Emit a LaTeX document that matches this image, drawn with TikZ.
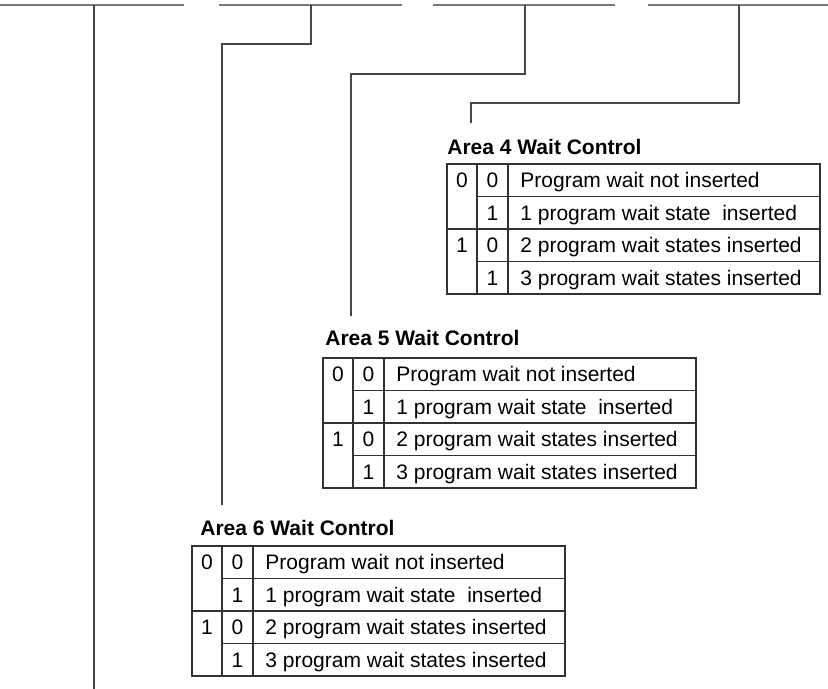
\documentclass[tikz,border=0pt]{standalone}
\usepackage{fontspec}
\setmainfont{Liberation Sans}
\usepackage{tikz}

\tikzset{
	bar/.style={draw={rgb, 255:red, 120; green, 120; blue, 120 }, line width=1pt},
	wire/.style={draw={rgb, 255:red, 70; green, 70; blue, 70 }, line width=0.6pt},
	grid/.style={draw={rgb, 255:red, 50; green, 50; blue, 50 }, line width=0.55pt},
	cell/.style={anchor=base, inner sep=0pt},
	desc/.style={anchor=base west, inner sep=0pt},
	caption/.style={anchor=base west, inner sep=0pt, font=\fontsize{10.5}{12.6}\selectfont\bfseries}
}

\begin{document}
\begin{tikzpicture}[x=0.5pt,y=0.5pt,yscale=-1,xscale=1, font=\fontsize{10.5}{12.6}\selectfont]
	\useasboundingbox (0,0) rectangle (828,689);
	
	%Straight Lines [register bars]
	\draw [bar] (0,5) -- (184,5) ;
	\draw [bar] (219,5) -- (402,5) ;
	\draw [bar] (433,5) -- (615,5) ;
	\draw [bar] (648,5) -- (828,5) ;
	
	% tap points and free ends
	\coordinate (tapA) at (94,5) ;
	\coordinate (tap6) at (311,5) ;
	\coordinate (tap5) at (525,5) ;
	\coordinate (tap4) at (739,5) ;
	\coordinate (endA) at (94,689) ;
	\coordinate (end6) at (222,505) ;
	\coordinate (end5) at (351,316) ;
	\coordinate (end4) at (471,123) ;
	
	%Straight Lines [id:wires]
	\draw [wire] (tapA) -- (endA) ;
	\draw [wire] (tap6) -- ++(0,39) -| (end6) ;
	\draw [wire] (tap5) -- ++(0,69) -| (end5) ;
	\draw [wire] (tap4) -- ++(0,98) -| (end4) ;
	
	%Shape: Table [wait control]
	\foreach \n/\l/\t/\dx/\dy in {4/447/164/0/9, 5/323/358/2/13, 6/192/546/8/11}{
		\begin{scope}[shift={(\l,\t)}]
			% Text Node
			\node (title\n) [caption] at (\dx,-\dy) {Area \n{} Wait Control};
			%Shape: Rectangle
			\draw [grid] (0,0) rectangle (373,130) ;
			%Straight Lines
			\draw [grid] (30,0) -- (30,130) ;
			\draw [grid] (61,0) -- (61,130) ;
			\draw [grid] (30,32.5) -- (373,32.5) ;
			\draw [grid] (0,65) -- (373,65) ;
			\draw [grid] (30,97.5) -- (373,97.5) ;
			% Text Node
			\node (hi\n-0) [cell] at (15,23.75) {0};
			\node (hi\n-1) [cell] at (15,88.75) {1};
			\node (lo\n-0) [cell] at (45.5,23.75) {0};
			\node (lo\n-1) [cell] at (45.5,56.25) {1};
			\node (lo\n-2) [cell] at (45.5,88.75) {0};
			\node (lo\n-3) [cell] at (45.5,121.25) {1};
			\node (tx\n-0) [desc] at (73,23.75) {Program wait not inserted};
			\node (tx\n-1) [desc] at (73,56.25) {1 program wait state~ inserted};
			\node (tx\n-2) [desc] at (73,88.75) {2 program wait states inserted};
			\node (tx\n-3) [desc] at (73,121.25) {3 program wait states inserted};
		\end{scope}
	}
	
\end{tikzpicture}
\end{document}
